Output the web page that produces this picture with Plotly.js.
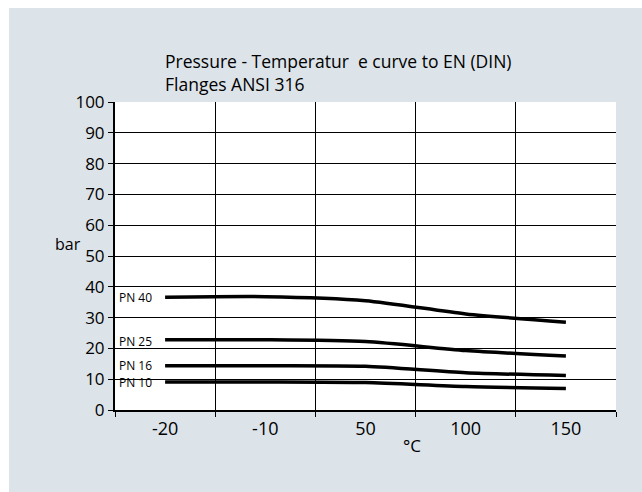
<!DOCTYPE html>
<html>
<head>
<meta charset="utf-8">
<script src="https://cdn.plot.ly/plotly-3.0.1.min.js"></script>
<style>
html,body{margin:0;padding:0;background:#dce3e9;overflow:hidden;}
#chart{position:absolute;left:9px;top:8px;width:633px;height:484px;}
#wt{position:absolute;left:0;top:0;width:100%;height:8px;background:#ffffff;}
#wl{position:absolute;left:0;top:0;width:9px;height:100%;background:#ffffff;}
</style>
</head>
<body>
<div id="chart"></div>
<div id="wt"></div>
<div id="wl"></div>
<script>
var temperatures = ['-20', '-10', '50', '100', '150'];
var pn40 = [36.6, 36.8, 35.5, 31.2, 28.5];
var pn25 = [22.8, 22.8, 22.2, 19.3, 17.5];
var pn16 = [14.4, 14.4, 14.2, 12.1, 11.2];
var pn10 = [9.1, 9.1, 8.9, 7.6, 7.0];
var seriesNames = ['PN 40', 'PN 25', 'PN 16', 'PN 10'];
var labelY = [36.4, 22.2, 14.4, 9.0];
var titleText = 'Pressure - Temperatur  e curve to EN (DIN)<br>Flanges ANSI 316';

var allSeries = [pn40, pn25, pn16, pn10];
var traces = allSeries.map(function (vals, i) {
  return {
    type: 'scatter', mode: 'lines', x: temperatures, y: vals, name: seriesNames[i],
    line: {color: '#000000', width: 3.5, shape: 'spline', smoothing: 0.7},
    hoverinfo: 'x+y+name'
  };
});

var annotations = seriesNames.map(function (n, i) {
  return {xref: 'paper', yref: 'y', x: 0.004, y: labelY[i], text: n, showarrow: false,
    xanchor: 'left', yanchor: 'middle', font: {family: 'Open Sans, sans-serif', size: 12, color: '#000'}};
});
annotations.push({xref: 'paper', yref: 'y', x: -0.094, y: 54, text: 'bar', showarrow: false,
  xanchor: 'center', yanchor: 'middle', font: {family: 'Open Sans, sans-serif', size: 16, color: '#000'}});
annotations.push({xref: 'paper', yref: 'paper', x: 0.593, y: -0.114, text: '°C', showarrow: false,
  xanchor: 'center', yanchor: 'middle', font: {family: 'Open Sans, sans-serif', size: 17, color: '#000'}});

var layout = {
  width: 633, height: 484,
  paper_bgcolor: '#dce3e9', plot_bgcolor: '#ffffff',
  margin: {l: 106, r: 26, t: 94, b: 82},
  showlegend: false,
  font: {family: 'Open Sans, sans-serif', color: '#000000'},
  title: {text: titleText, xref: 'container', x: 156 / 633, xanchor: 'left',
    yref: 'container', y: 1 - 60 / 484, yanchor: 'top',
    font: {family: 'Open Sans, sans-serif', size: 17.5, color: '#000'}},
  xaxis: {type: 'category', categoryorder: 'array', categoryarray: temperatures,
    tickson: 'boundaries', ticks: 'outside', ticklen: 5, tickcolor: '#000', tickwidth: 1,
    showgrid: true, gridcolor: '#000000', gridwidth: 1,
    showline: true, linecolor: '#000', linewidth: 2, zeroline: false,
    ticklabelstandoff: 1,
    tickfont: {size: 18, color: '#000'}, range: [-0.5, 4.5]},
  yaxis: {range: [0, 100], dtick: 10, tick0: 0, ticks: 'outside', ticklen: 5, tickcolor: '#000',
    showgrid: true, gridcolor: '#000000', gridwidth: 1,
    showline: true, linecolor: '#000', linewidth: 2, zeroline: false,
    tickfont: {size: 17, color: '#000'}},
  annotations: annotations
};

Plotly.newPlot('chart', traces, layout, {displayModeBar: false, staticPlot: true});
</script>
</body>
</html>
